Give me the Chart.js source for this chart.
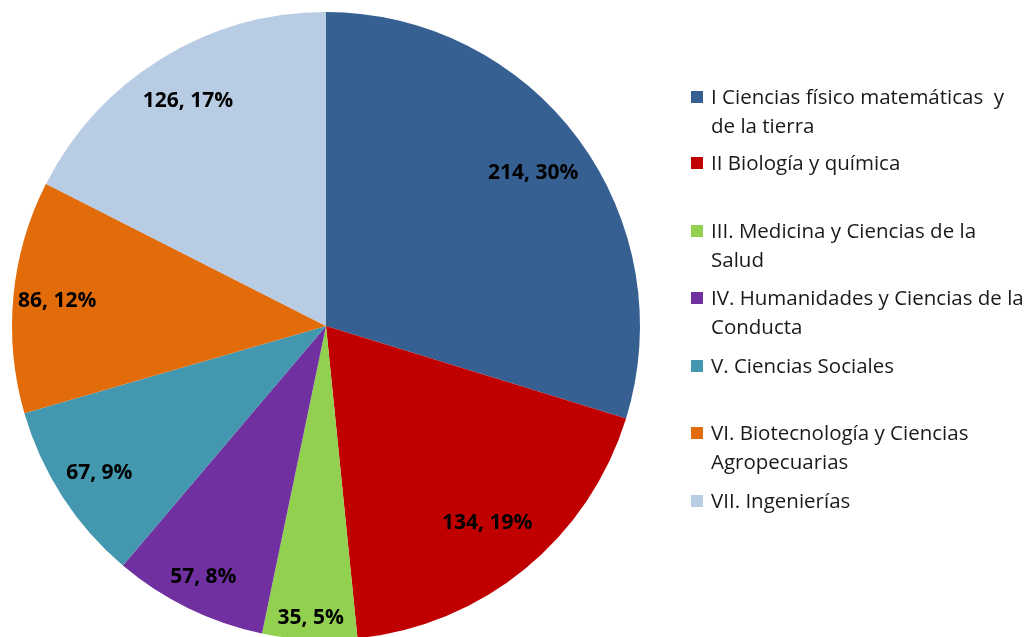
<!DOCTYPE html>
<html>
<head>
<meta charset="utf-8">
<script src="https://cdn.jsdelivr.net/npm/chart.js@4"></script>
<style>
    html, body { margin: 0; padding: 0; background: #ffffff; overflow: hidden; }
    #wrap { position: relative; width: 1032px; height: 652px; }
    #legend { position: absolute; left: 691px; top: 82px; font-family: "Open Sans", sans-serif; font-size: 20.5px; color: #1a1a1a; }
    .item { position: absolute; left: 0; white-space: pre; line-height: 29px; }
    .sw { position: absolute; left: 0; top: 9px; width: 12px; height: 12px; }
    .txt { position: absolute; left: 20px; top: 0; }
</style>
</head>
<body>
<div id="wrap">
    <canvas id="pieChart" width="1032" height="652"></canvas>
    <div id="legend"></div>
</div>

<script>
// Datos del gráfico
const categorias = [
    'I Ciencias físico matemáticas  y\nde la tierra',
    'II Biología y química',
    'III. Medicina y Ciencias de la\nSalud',
    'IV. Humanidades y Ciencias de la\nConducta',
    'V. Ciencias Sociales',
    'VI. Biotecnología y Ciencias\nAgropecuarias',
    'VII. Ingenierías'
];
const valores = [214, 134, 35, 57, 67, 86, 126];
const porcentajes = [30, 19, 5, 8, 9, 12, 17];
const colores = ['#376092', '#C00000', '#92D050', '#7030A0', '#4398B0', '#E36C0A', '#B8CCE4'];

// Plugin para las etiquetas "valor, porcentaje"
const etiquetasPlugin = {
    id: 'etiquetas',
    afterDatasetsDraw(chart, args, opts) {
        const ctx = chart.ctx;
        const meta = chart.getDatasetMeta(0);
        ctx.save();
        ctx.font = 'bold 21px "Open Sans", sans-serif';
        ctx.fillStyle = '#000000';
        ctx.textAlign = 'center';
        ctx.textBaseline = 'middle';
        meta.data.forEach((arc, i) => {
            const mid = (arc.startAngle + arc.endAngle) / 2;
            const r = arc.outerRadius * opts.radios[i];
            const x = arc.x + Math.cos(mid) * r;
            const y = arc.y + Math.sin(mid) * r;
            ctx.fillText(valores[i] + ', ' + porcentajes[i] + '%', x, y);
        });
        ctx.restore();
    }
};

const ctx = document.getElementById('pieChart').getContext('2d');
new Chart(ctx, {
    type: 'pie',
    data: {
        labels: categorias,
        datasets: [{
            data: valores,
            backgroundColor: colores,
            borderWidth: 0
        }]
    },
    options: {
        responsive: false,
        animation: false,
        layout: { padding: { top: 12, bottom: 12, left: 12, right: 392 } },
        plugins: {
            legend: { display: false },
            tooltip: { enabled: false },
            etiquetas: { radios: [0.82, 0.81, 0.93, 0.89, 0.86, 0.86, 0.84] }
        }
    },
    plugins: [etiquetasPlugin]
});

// Leyenda en HTML (con saltos de línea como en el original)
const filas = [0, 66, 134, 201, 269, 336, 404];
const legend = document.getElementById('legend');
categorias.forEach((cat, i) => {
    const item = document.createElement('div');
    item.className = 'item';
    item.style.top = filas[i] + 'px';
    item.innerHTML = '<span class="sw" style="background:' + colores[i] + '"></span>' +
        '<span class="txt">' + cat.replace('\n', '<br>') + '</span>';
    legend.appendChild(item);
});
</script>
</body>
</html>
